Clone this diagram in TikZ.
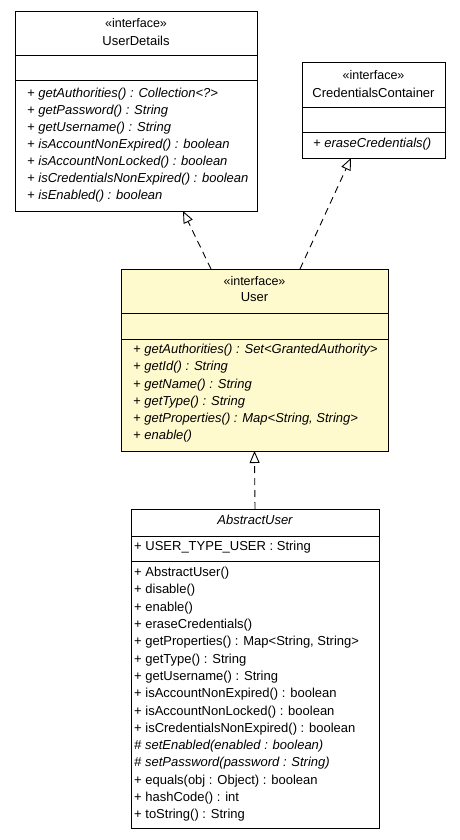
\documentclass[tikz,border=0pt]{standalone}
\usepackage{fontspec}
\setmainfont{Liberation Sans}
\usetikzlibrary{arrows.meta}
\definecolor{lemon}{HTML}{FFFACD}
\tikzset{
  umlbox/.style={draw, line width=1pt, inner sep=0pt, outer sep=0pt},
  sep/.style={line width=1pt},
  txt/.style={anchor=mid west, inner sep=0pt, font=\fontsize{13}{15}\selectfont},
  itx/.style={txt, font=\fontsize{13}{15}\selectfont\itshape},
  ctr/.style={anchor=mid, inner sep=0pt, font=\fontsize{13}{15}\selectfont},
  ster/.style={anchor=mid, inner sep=0pt, font=\fontsize{12.5}{14}\selectfont},
  dep/.style={line width=0.9pt, dash pattern=on 7pt off 5pt,
    -{Triangle[open, length=12pt, width=10pt, fill=white]}}
}
\begin{document}
\begin{tikzpicture}[x=1pt, y=-1pt]
\useasboundingbox[fill=white] (0,0) rectangle (460,840);
% UserDetails
\node[umlbox, minimum width=242pt, minimum height=199pt] (ud) at (136,111.5) {};
\draw[sep] (15,56) -- (257,56);
\draw[sep] (15,81) -- (257,81);
\node[ster] (udst) at (136,25) {«interface»};
\node[ctr] (udnm) at (136,43) {UserDetails};
\node[itx] (ud1) at (27,95) {+ getAuthorities() : Collection<?>};
\node[itx] (ud2) at (27,112) {+ getPassword() : String};
\node[itx] (ud3) at (27,129) {+ getUsername() : String};
\node[itx] (ud4) at (27,146) {+ isAccountNonExpired() : boolean};
\node[itx] (ud5) at (27,163) {+ isAccountNonLocked() : boolean};
\node[itx] (ud6) at (27,180) {+ isCredentialsNonExpired() : boolean};
\node[itx] (ud7) at (27,197) {+ isEnabled() : boolean};
% CredentialsContainer
\node[umlbox, minimum width=143pt, minimum height=95pt] (cc) at (373.5,110.5) {};
\draw[sep] (302,108) -- (445,108);
\draw[sep] (302,133) -- (445,133);
\node[ster] (ccst) at (373.5,77) {«interface»};
\node[ctr] (ccnm) at (373.5,95) {CredentialsContainer};
\node[itx] (cc1) at (313,145) {+ eraseCredentials()};
% User
\node[umlbox, fill=lemon, minimum width=267pt, minimum height=182pt] (u) at (254.5,360) {};
\draw[sep] (121,313) -- (388,313);
\draw[sep] (121,339) -- (388,339);
\node[ster] (ust) at (254.5,283) {«interface»};
\node[ctr] (unm) at (254.5,299) {User};
\node[itx] (u1) at (133,351) {+ getAuthorities() : Set<GrantedAuthority>};
\node[itx] (u2) at (133,368) {+ getId() : String};
\node[itx] (u3) at (133,385.5) {+ getName() : String};
\node[itx] (u4) at (133,402.5) {+ getType() : String};
\node[itx] (u5) at (133,420) {+ getProperties() : Map<String, String>};
\node[itx] (u6) at (133,437) {+ enable()};
% AbstractUser
\node[umlbox, minimum width=248pt, minimum height=319pt] (au) at (255,668.5) {};
\draw[sep] (131,536) -- (379,536);
\draw[sep] (131,561) -- (379,561);
\node[ctr, font=\fontsize{13}{15}\selectfont\itshape] (aunm) at (255,522) {AbstractUser};
\node[txt] (aua) at (134,548) {+ USER\_TYPE\_USER : String};
\node[txt] (au1) at (134,574) {+ AbstractUser()};
\node[txt] (au2) at (134,591.3) {+ disable()};
\node[txt] (au3) at (134,608.6) {+ enable()};
\node[txt] (au4) at (134,625.9) {+ eraseCredentials()};
\node[txt] (au5) at (134,643.2) {+ getProperties() : Map<String, String>};
\node[txt] (au6) at (134,660.5) {+ getType() : String};
\node[txt] (au7) at (134,677.8) {+ getUsername() : String};
\node[txt] (au8) at (134,695.1) {+ isAccountNonExpired() : boolean};
\node[txt] (au9) at (134,712.4) {+ isAccountNonLocked() : boolean};
\node[txt] (au10) at (134,729.7) {+ isCredentialsNonExpired() : boolean};
\node[itx] (au11) at (134,747) {\# setEnabled(enabled : boolean)};
\node[itx] (au12) at (134,764.3) {\# setPassword(password : String)};
\node[txt] (au13) at (134,781.6) {+ equals(obj : Object) : boolean};
\node[txt] (au14) at (134,798.9) {+ hashCode() : int};
\node[txt] (au15) at (134,816.2) {+ toString() : String};
% realizations
\draw[dep] ([xshift=90pt]u.north west) -- ([xshift=168pt]ud.south west);
\draw[dep] ([xshift=179pt]u.north west) -- ([xshift=49pt]cc.south west);
\draw[dep] (au.north) -- (u.south);
\end{tikzpicture}
\end{document}
